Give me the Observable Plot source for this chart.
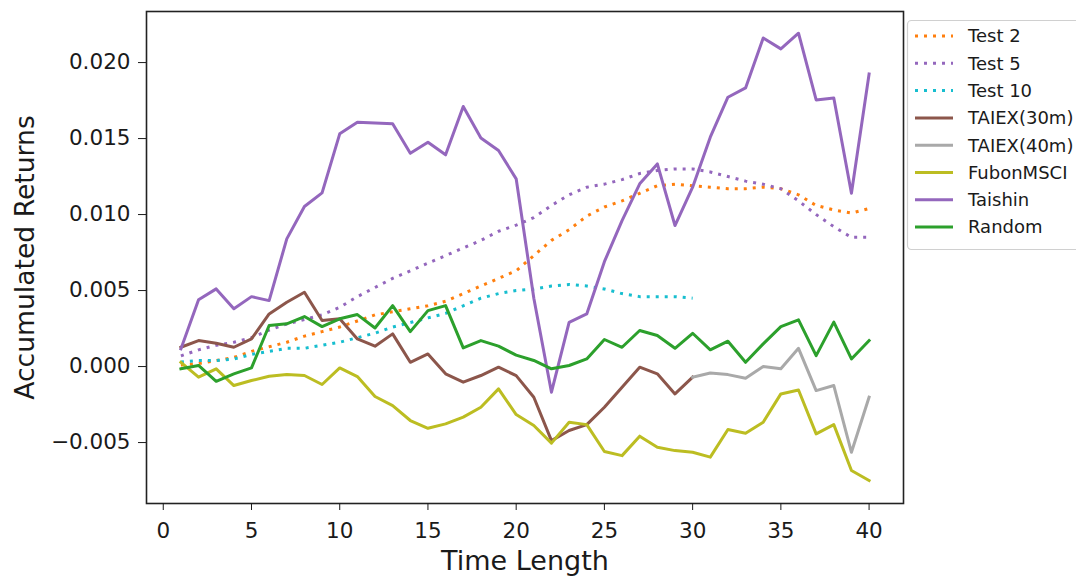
<!DOCTYPE html>
<html>
<head>
<meta charset="utf-8">
<script src="https://cdn.jsdelivr.net/npm/d3@7"></script>
<script src="https://cdn.jsdelivr.net/npm/@observablehq/plot@0.6"></script>
<style>
  html, body { margin: 0; padding: 0; background: #fff; overflow: hidden; }
  #chart { width: 1076px; height: 578px; }
</style>
</head>
<body>
<div id="chart"></div>
<script>
// ---- data ----
const seriesNames = ["Test 2", "Test 5", "Test 10", "TAIEX(30m)", "TAIEX(40m)", "FubonMSCI", "Taishin", "Random"];
const seriesColors = ["#ff7f0e", "#9467bd", "#17becf", "#8c564b", "#a9a9a9", "#bcbd22", "#9467bd", "#2ca02c"];
const seriesDotted = [true, true, true, false, false, false, false, false];

const test2 = [0.0001, 0.0002, 0.0004, 0.0006, 0.0010, 0.0013, 0.0016, 0.0020, 0.0023, 0.0026,
  0.0030, 0.0034, 0.0036, 0.0038, 0.0040, 0.0043, 0.0048, 0.0053, 0.0058, 0.0063,
  0.0073, 0.0083, 0.0090, 0.0099, 0.0105, 0.0109, 0.0114, 0.0119, 0.0120, 0.0119,
  0.0118, 0.0117, 0.0117, 0.0118, 0.0117, 0.0113, 0.0106, 0.0103, 0.0101, 0.0104];
const test5 = [0.0007, 0.0011, 0.0014, 0.0016, 0.0019, 0.0024, 0.0028, 0.0031, 0.0034, 0.0039,
  0.0046, 0.0052, 0.0058, 0.0063, 0.0068, 0.0073, 0.0078, 0.0083, 0.0089, 0.0093,
  0.0098, 0.0106, 0.0113, 0.0118, 0.0120, 0.0123, 0.0127, 0.0129, 0.0130, 0.0130,
  0.0128, 0.0125, 0.0122, 0.0120, 0.0117, 0.0109, 0.0100, 0.0092, 0.0085, 0.0085];
const test10 = [0.0003, 0.0004, 0.0004, 0.0005, 0.0008, 0.0010, 0.0012, 0.0012, 0.0014, 0.0016,
  0.0019, 0.0022, 0.0026, 0.0029, 0.0032, 0.0035, 0.0040, 0.0045, 0.0048, 0.0050,
  0.0051, 0.0053, 0.0054, 0.0053, 0.0051, 0.0048, 0.0046, 0.0046, 0.0046, 0.0045];
const taiex30 = [0.00127, 0.00171, 0.00153, 0.00127, 0.00182, 0.00346, 0.00423, 0.00489, 0.00303, 0.00314,
  0.00182, 0.00134, 0.00215, 0.00028, 0.00083, -0.00048, -0.00103, -0.00059, -0.00004, -0.0006,
  -0.00202, -0.00487, -0.00421, -0.00382, -0.00268, -0.00136, -0.00004, -0.00048, -0.0018, -0.0007];
const taiex40Start = 30;
const taiex40 = [-0.0007, -0.00042, -0.00053, -0.00077, 0.0, -0.00015, 0.0012, -0.00158, -0.00125, -0.00564, -0.00202];
const fubon = [0.00028, -0.0007, -0.00015, -0.00125, -0.00092, -0.00064, -0.00053, -0.00059, -0.00118, -0.00009,
  -0.00066, -0.00197, -0.00257, -0.00355, -0.00406, -0.00377, -0.00333, -0.00268, -0.00147, -0.00316,
  -0.00388, -0.00504, -0.00366, -0.00382, -0.00559, -0.00586, -0.00458, -0.00531, -0.00553, -0.00564,
  -0.00596, -0.00414, -0.00439, -0.00366, -0.0018, -0.00154, -0.00443, -0.00382, -0.00684, -0.0075];
const taishin = [0.00116, 0.00439, 0.00511, 0.0038, 0.0046, 0.00434, 0.0084, 0.01053, 0.01143, 0.01531,
  0.01607, 0.01603, 0.01597, 0.01403, 0.01476, 0.01393, 0.01711, 0.01504, 0.01421, 0.01235,
  0.0045, -0.00169, 0.00291, 0.00346, 0.0069, 0.0096, 0.01202, 0.01333, 0.00928, 0.0118,
  0.01509, 0.01772, 0.01833, 0.02162, 0.0209, 0.02193, 0.01754, 0.01767, 0.0114, 0.01925];
const random = [-0.00015, 0.00007, -0.00097, -0.00048, -0.00009, 0.0027, 0.00281, 0.00329, 0.00263, 0.00314,
  0.00342, 0.00254, 0.00401, 0.0023, 0.00368, 0.00401, 0.00123, 0.00171, 0.00134, 0.00075,
  0.0004, -0.00015, 0.00007, 0.0005, 0.00178, 0.00127, 0.00237, 0.00204, 0.0012, 0.00219,
  0.0011, 0.00167, 0.00028, 0.00149, 0.00263, 0.00307, 0.00072, 0.00292, 0.0005, 0.00171];

const xTicks = [0, 5, 10, 15, 20, 25, 30, 35, 40];
const yTicks = [-0.005, 0, 0.005, 0.010, 0.015, 0.020];

// ---- build rows ----
const seriesValues = [test2, test5, test10, taiex30, taiex40, fubon, taishin, random];
const seriesStart = [1, 1, 1, 1, taiex40Start, 1, 1, 1];
const seriesRows = seriesValues.map((vals, i) => vals.map((v, j) => ({t: seriesStart[i] + j, v, s: seriesNames[i]})));

const lineMarks = seriesRows.map((rows, i) => Plot.line(rows, {
  x: "t", y: "v",
  stroke: seriesColors[i],
  strokeWidth: 3,
  strokeDasharray: seriesDotted[i] ? "3,6" : null,
  strokeLinejoin: "round",
  strokeLinecap: seriesDotted[i] ? "butt" : "square"
}));

const chart = Plot.plot({
  width: 1076,
  height: 578,
  marginLeft: 146,
  marginRight: 173,
  marginTop: 11,
  marginBottom: 75,
  style: {fontFamily: "DejaVu Sans", fontSize: "21.5px", color: "#1a1a1a", background: "#fff"},
  x: {domain: [-0.95, 41.95]},
  y: {domain: [-0.00901, 0.02336]},
  marks: [
    ...lineMarks,
    Plot.frame({stroke: "#222", strokeWidth: 1.6}),
    Plot.axisX({ticks: xTicks, tickFormat: d3.format("d"), tickSize: 7, tickPadding: 12, label: null, fontSize: 21.5}),
    Plot.axisY({ticks: yTicks, tickFormat: d3.format(".3f"), tickSize: 8, tickPadding: 8, label: null, fontSize: 21.5}),
    Plot.text(["Time Length"], {frameAnchor: "bottom", lineAnchor: "middle", dy: 58, fontSize: 27, textAnchor: "middle", fill: "#1a1a1a"}),
    Plot.text(["Accumulated Returns"], {frameAnchor: "left", lineAnchor: "middle", dx: -121, rotate: -90, fontSize: 26.6, textAnchor: "middle", fill: "#1a1a1a"})
  ]
});

document.getElementById("chart").appendChild(chart);

// ---- legend (inside the SVG, right side, partly clipped like the reference) ----
const svg = d3.select(chart);
const lg = svg.append("g").attr("class", "legend").attr("text-anchor", "start");
lg.append("rect")
  .attr("x", 907.5).attr("y", 20.5).attr("width", 200).attr("height", 229)
  .attr("rx", 4).attr("fill", "#fff").attr("fill-opacity", 0.85)
  .attr("stroke", "#d0d0d0").attr("stroke-width", 1.2);
seriesNames.forEach((name, i) => {
  const y = 36 + i * 27.3;
  lg.append("line")
    .attr("x1", 915).attr("x2", 953).attr("y1", y).attr("y2", y)
    .attr("stroke", seriesColors[i]).attr("stroke-width", 3)
    .attr("stroke-dasharray", seriesDotted[i] ? "3,6" : null);
  lg.append("text")
    .attr("x", 968).attr("y", y).attr("dy", "0.35em")
    .attr("text-anchor", "start")
    .attr("font-family", "DejaVu Sans").attr("font-size", "18px")
    .attr("fill", "#1a1a1a")
    .text(name);
});
</script>
</body>
</html>
